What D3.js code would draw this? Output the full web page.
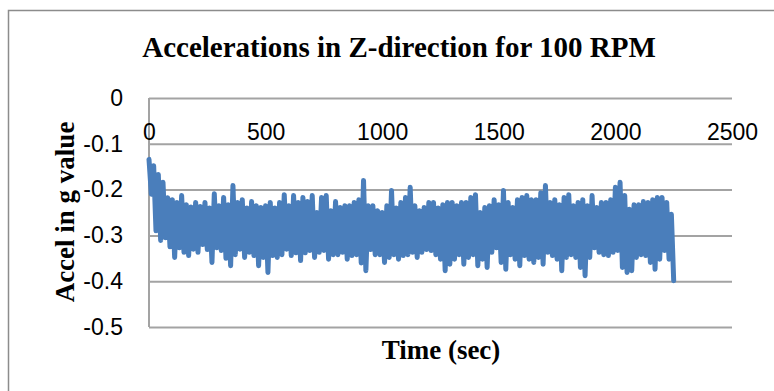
<!DOCTYPE html>
<html>
<head>
<meta charset="utf-8">
<script src="https://cdnjs.cloudflare.com/ajax/libs/d3/7.8.5/d3.min.js"></script>
<style>
  html, body { margin: 0; padding: 0; background: #fff; }
  svg { display: block; }
</style>
</head>
<body>
<svg id="chart" width="774" height="391"></svg>
<script>
// Z-axis acceleration (g) logged every 10 s at 100 RPM
const sampleStepSec = 10;
const accelZ = [
  -0.134, -0.21, -0.148, -0.29, -0.167, -0.311, -0.184, -0.305, -0.218, -0.325,
  -0.222, -0.348, -0.228, -0.327, -0.213, -0.337, -0.233, -0.344, -0.238, -0.33,
  -0.228, -0.337, -0.237, -0.32, -0.228, -0.331, -0.24, -0.359, -0.209, -0.327,
  -0.235, -0.333, -0.217, -0.35, -0.233, -0.366, -0.191, -0.342, -0.228, -0.33,
  -0.222, -0.348, -0.24, -0.337, -0.226, -0.344, -0.235, -0.366, -0.239, -0.348,
  -0.235, -0.381, -0.228, -0.344, -0.24, -0.348, -0.228, -0.342, -0.211, -0.33,
  -0.235, -0.344, -0.213, -0.338, -0.228, -0.355, -0.217, -0.338, -0.226, -0.333,
  -0.213, -0.348, -0.25, -0.337, -0.217, -0.333, -0.213, -0.352, -0.246, -0.342,
  -0.226, -0.342, -0.239, -0.337, -0.235, -0.352, -0.235, -0.344, -0.228, -0.342,
  -0.222, -0.36, -0.18, -0.377, -0.235, -0.331, -0.235, -0.342, -0.246, -0.342,
  -0.25, -0.359, -0.235, -0.348, -0.202, -0.342, -0.24, -0.352, -0.228, -0.344,
  -0.217, -0.342, -0.195, -0.337, -0.235, -0.348, -0.246, -0.337, -0.239, -0.331,
  -0.228, -0.333, -0.228, -0.342, -0.24, -0.352, -0.233, -0.377, -0.228, -0.363,
  -0.228, -0.352, -0.235, -0.342, -0.228, -0.363, -0.228, -0.348, -0.217, -0.342,
  -0.211, -0.366, -0.25, -0.352, -0.239, -0.37, -0.235, -0.337, -0.222, -0.327,
  -0.233, -0.359, -0.202, -0.374, -0.228, -0.342, -0.239, -0.352, -0.222, -0.366,
  -0.217, -0.344, -0.213, -0.352, -0.222, -0.359, -0.222, -0.348, -0.207, -0.363,
  -0.191, -0.337, -0.228, -0.344, -0.222, -0.352, -0.233, -0.377, -0.217, -0.348,
  -0.211, -0.342, -0.235, -0.348, -0.228, -0.37, -0.222, -0.388, -0.235, -0.348,
  -0.213, -0.327, -0.239, -0.337, -0.228, -0.342, -0.228, -0.344, -0.222, -0.337,
  -0.195, -0.333, -0.184, -0.37, -0.213, -0.381, -0.243, -0.377, -0.233, -0.348,
  -0.233, -0.342, -0.226, -0.344, -0.228, -0.359, -0.222, -0.374, -0.217, -0.352,
  -0.217, -0.333, -0.228, -0.352, -0.254, -0.399
];

const xTicks = [0, 500, 1000, 1500, 2000, 2500];
const xTickLabels = ["0", "500", "1000", "1500", "2000", "2500"];
const yTicks = [0, -0.1, -0.2, -0.3, -0.4, -0.5];
const yTickLabels = ["0", "-0.1", "-0.2", "-0.3", "-0.4", "-0.5"];

const chartTitle = "Accelerations in Z-direction for 100 RPM";
const xTitle = "Time (sec)";
const yTitle = "Accel in g value";

const svg = d3.select("#chart");
const plot = { left: 149, right: 732, top: 98, bottom: 327 };

const x = d3.scaleLinear().domain([0, 2500]).range([plot.left, plot.right]);
const y = d3.scaleLinear().domain([-0.5, 0]).range([plot.bottom, plot.top]);

const gridColor = "#a3a3a3";
const tickFont = "'Liberation Sans', Arial, sans-serif";
const titleFont = "'Liberation Serif', 'Times New Roman', serif";

// chart area frame
svg.append("rect")
  .attr("x", 8.5).attr("y", 10.5)
  .attr("width", 820).attr("height", 420)
  .attr("fill", "#fff")
  .attr("stroke", "#8c8c8c").attr("stroke-width", 1.5);

// horizontal gridlines + value labels
const yAxis = d3.axisLeft(y)
  .tickValues(yTicks)
  .tickFormat((d, i) => yTickLabels[i])
  .tickSize(-(plot.right - plot.left))
  .tickPadding(26);

const gy = svg.append("g")
  .attr("transform", `translate(${plot.left},0)`)
  .call(yAxis);
gy.select(".domain").remove();
gy.selectAll(".tick line").attr("stroke", gridColor).attr("stroke-width", 2);
gy.selectAll(".tick text")
  .attr("font-family", tickFont).attr("font-size", 23).attr("fill", "#000");

// vertical axis line
svg.append("line")
  .attr("x1", plot.left).attr("x2", plot.left)
  .attr("y1", plot.top).attr("y2", plot.bottom)
  .attr("stroke", gridColor).attr("stroke-width", 2);

// time axis sits on the zero line
const xAxis = d3.axisBottom(x)
  .tickValues(xTicks)
  .tickFormat((d, i) => xTickLabels[i])
  .tickSize(0)
  .tickPadding(26);

const gx = svg.append("g")
  .attr("transform", `translate(0,${y(0)})`)
  .call(xAxis);
gx.select(".domain").remove();
gx.selectAll(".tick text")
  .attr("font-family", tickFont).attr("font-size", 23).attr("fill", "#000");

// acceleration trace
const line = d3.line()
  .x((d, i) => x(i * sampleStepSec))
  .y(d => y(d));

svg.append("path")
  .datum(accelZ)
  .attr("d", line)
  .attr("fill", "none")
  .attr("stroke", "#4a7ebb")
  .attr("stroke-width", 5)
  .attr("stroke-linejoin", "round")
  .attr("stroke-linecap", "round");

// titles
svg.append("text")
  .attr("x", 399).attr("y", 57)
  .attr("text-anchor", "middle")
  .attr("font-family", titleFont).attr("font-weight", "bold")
  .attr("font-size", 29)
  .text(chartTitle);

svg.append("text")
  .attr("x", 441).attr("y", 359)
  .attr("text-anchor", "middle")
  .attr("font-family", titleFont).attr("font-weight", "bold")
  .attr("font-size", 27)
  .text(xTitle);

svg.append("text")
  .attr("transform", `translate(74,212) rotate(-90)`)
  .attr("text-anchor", "middle")
  .attr("font-family", titleFont).attr("font-weight", "bold")
  .attr("font-size", 27)
  .text(yTitle);
</script>
</body>
</html>
